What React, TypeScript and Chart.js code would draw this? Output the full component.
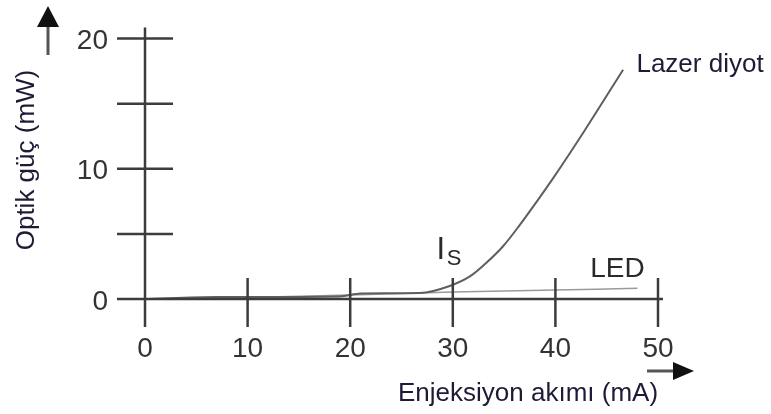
import React, { useEffect, useRef } from 'react';
import { Chart, registerables } from 'chart.js';

Chart.register(...registerables);

// ---- data ----
const laserCurrent = [0, 7, 19, 21, 26.8, 29.7, 31.7, 33.3, 34.9, 36.5, 38.2, 39.8, 42.9, 46.6];
const laserPower = [0, 0.15, 0.2, 0.42, 0.46, 1.0, 1.75, 2.8, 4.05, 5.65, 7.5, 9.3, 13.0, 17.6];
const ledCurrent = [0, 10, 20, 30, 40, 48];
const ledPower = [0, 0.12, 0.3, 0.54, 0.69, 0.82];
const xTickLabels = ['0', '10', '20', '30', '40', '50'];
const yTickLabels: Record<number, string> = { 0: '0', 5: '', 10: '10', 15: '', 20: '20' };

const xTitle = 'Enjeksiyon akımı (mA)';
const yTitle = 'Optik güç (mW)';
const laserLabel = 'Lazer diyot';
const ledLabel = 'LED';

const FONT = '"Liberation Sans", Arial, sans-serif';
const AXIS = '#3c3c3c';
const TITLE = '#1f1a35';

const decor = {
  id: 'decor',
  afterDatasetsDraw(chart: any) {
    const { ctx } = chart;
    const xs = chart.scales.x;
    const ys = chart.scales.y;
    const x0 = xs.getPixelForValue(0);
    const y0 = ys.getPixelForValue(0);
    const line = (a: number, b: number, c: number, d: number) => {
      ctx.beginPath();
      ctx.moveTo(a, b);
      ctx.lineTo(c, d);
      ctx.stroke();
    };
    ctx.save();
    ctx.strokeStyle = AXIS;
    ctx.lineWidth = 2.5;
    // axes
    line(x0, ys.getPixelForValue(ys.max) - 11, x0, y0 + 28);
    line(x0 - 28, y0, xs.getPixelForValue(xs.max) + 5, y0);
    // crossing tick marks
    ys.ticks.forEach((t: any) => {
      if (t.value === 0) return;
      const py = ys.getPixelForValue(t.value);
      line(x0 - 28, py, x0 + 28, py);
    });
    xs.ticks.forEach((t: any) => {
      if (t.value === 0) return;
      const px = xs.getPixelForValue(t.value);
      line(px, y0 - 21, px, y0 + 28);
    });

    // arrows
    ctx.fillStyle = '#111';
    ctx.strokeStyle = '#555';
    ctx.lineWidth = 3;
    line(48, 27, 48, 55);
    ctx.beginPath();
    ctx.moveTo(48, 6);
    ctx.lineTo(59, 27);
    ctx.lineTo(37, 27);
    ctx.closePath();
    ctx.fill();

    line(647, 371, 674, 371);
    ctx.beginPath();
    ctx.moveTo(694, 371);
    ctx.lineTo(673, 362);
    ctx.lineTo(673, 380);
    ctx.closePath();
    ctx.fill();

    // axis titles
    ctx.fillStyle = TITLE;
    ctx.font = `26px ${FONT}`;
    ctx.textBaseline = 'alphabetic';
    ctx.textAlign = 'left';
    ctx.fillText(xTitle, 398, 401);
    ctx.save();
    ctx.translate(34, 160);
    ctx.rotate(-Math.PI / 2);
    ctx.textAlign = 'center';
    ctx.fillText(yTitle, 0, 0);
    ctx.restore();

    // curve annotations, placed in data coordinates
    ctx.textAlign = 'left';
    ctx.fillStyle = TITLE;
    ctx.font = `26px ${FONT}`;
    ctx.fillText(laserLabel, xs.getPixelForValue(47.9), ys.getPixelForValue(17.45));
    ctx.fillStyle = '#2a2a2a';
    ctx.font = `28px ${FONT}`;
    ctx.fillText(ledLabel, xs.getPixelForValue(43.4), ys.getPixelForValue(1.72));
    ctx.font = `31px ${FONT}`;
    ctx.fillText('I', xs.getPixelForValue(28.4), ys.getPixelForValue(3.05));
    ctx.font = `22px ${FONT}`;
    ctx.fillText('S', xs.getPixelForValue(29.4), ys.getPixelForValue(2.6));
    ctx.restore();
  },
};

export default function App() {
  const ref = useRef<HTMLCanvasElement | null>(null);
  useEffect(() => {
    document.body.style.margin = '0';
    const canvas = ref.current;
    if (!canvas) return;
    const chart = new Chart(canvas, {
      type: 'line',
      data: {
        datasets: [
          {
            label: laserLabel,
            data: laserCurrent.map((x, i) => ({ x, y: laserPower[i] })),
            borderColor: '#5f5f5f',
            borderWidth: 2,
            pointRadius: 0,
            cubicInterpolationMode: 'monotone',
            fill: false,
          },
          {
            label: ledLabel,
            data: ledCurrent.map((x, i) => ({ x, y: ledPower[i] })),
            borderColor: '#9a9a9a',
            borderWidth: 1.5,
            pointRadius: 0,
            tension: 0.3,
            fill: false,
          },
        ],
      },
      options: {
        responsive: false,
        animation: false,
        events: [],
        layout: { padding: { top: 38.5, right: 113, left: 0, bottom: 0 } },
        plugins: { legend: { display: false }, tooltip: { enabled: false } },
        scales: {
          x: {
            type: 'linear',
            min: 0,
            max: 50,
            grid: { display: false, drawTicks: false },
            border: { display: false },
            ticks: {
              stepSize: 10,
              autoSkip: false,
              maxRotation: 0,
              padding: 33,
              color: '#333',
              font: { size: 28, family: FONT },
              callback: (_v: any, i: number) => xTickLabels[i],
            },
            afterFit: (s: any) => {
              s.height = 115;
            },
          },
          y: {
            type: 'linear',
            min: 0,
            max: 20,
            grid: { display: false, drawTicks: false },
            border: { display: false },
            ticks: {
              stepSize: 5,
              autoSkip: false,
              padding: 37,
              labelOffset: 3,
              color: '#333',
              font: { size: 28, family: FONT },
              callback: (v: any) => yTickLabels[v as number] ?? '',
            },
            afterFit: (s: any) => {
              s.width = 145;
              s.paddingTop = 0;
              s.paddingBottom = 0;
            },
          },
        },
      },
      plugins: [decor],
    } as any);
    return () => chart.destroy();
  }, []);
  return <canvas ref={ref} width={771} height={414} style={{ display: 'block' }} />;
}
